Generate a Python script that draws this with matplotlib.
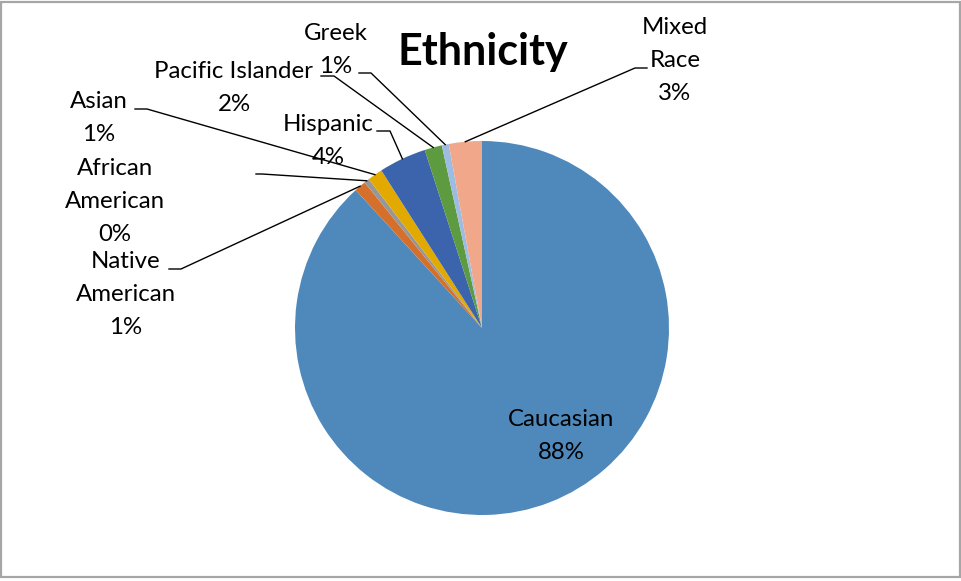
import math
import matplotlib
matplotlib.use("Agg")
import matplotlib.pyplot as plt
from matplotlib.patches import Rectangle

# ---- data ----
categories = ["Caucasian", "Native American", "African American", "Asian",
              "Hispanic", "Pacific Islander", "Greek", "Mixed Race"]
values = [88.2, 1.0, 0.45, 1.3, 4.1, 1.5, 0.6, 2.85]
colors = ["#4F89BC", "#D4702C", "#979797", "#E2AA00",
          "#3B64AC", "#5D9A40", "#9EBBE2", "#F1A88A"]
display_names = ["Caucasian", "Native\nAmerican", "African\nAmerican", "Asian",
                 "Hispanic", "Pacific Islander", "Greek", "Mixed\nRace"]
title = "Ethnicity"

W, H = 962, 581
fig = plt.figure(figsize=(W / 100, H / 100), dpi=100)
ax = fig.add_axes([0, 0, 1, 1])

def Y(y):
    return H - y

cx, cy, R = 482, Y(328), 187
wedges, _ = ax.pie(values, colors=colors, startangle=90, counterclock=False,
                   center=(cx, cy), radius=R,
                   wedgeprops=dict(linewidth=0))
ax.set_xlim(0, W)
ax.set_ylim(0, H)
ax.set_aspect("equal")
ax.set_axis_off()

# border
ax.add_patch(Rectangle((1.5, Y(577)), W - 3.5, 575, fill=False,
                       edgecolor="#A6A6A6", linewidth=1.6))

FONT = "Lato"
FS = 17.3
PITCH = 33.3

total = sum(values)
labels = [f"{n}\n{v / total * 100:.0f}%" for n, v in zip(display_names, values)]

# label layout: (text center x, first-line center y, leader knee points) in pixel coords
layout = {
    "Caucasian": (561, 418, None),
    "Native American": (126, 260, [(169, 269), (181, 269)]),
    "African American": (115, 167, [(256, 174), (262, 174)]),
    "Asian": (99, 100, [(135, 109), (147, 109)]),
    "Hispanic": (328, 123, [(377, 131), (390, 131)]),
    "Pacific Islander": (234, 70, [(321, 76), (334, 76)]),
    "Greek": (336, 32, [(359, 73), (371, 73)]),
    "Mixed Race": (675, 26, [(647, 68), (635, 68)]),
}

for cat, lab, w in zip(categories, labels, wedges):
    tx, ty, knee = layout[cat]
    for i, line in enumerate(lab.split("\n")):
        ax.text(tx, Y(ty + i * PITCH + 7.5), line, ha="center", va="baseline",
                fontsize=FS, family=FONT, color="black")
    if knee:
        th = math.radians((w.theta1 + w.theta2) / 2)
        ex, ey = cx + R * math.cos(th), cy + R * math.sin(th)
        xs = [p[0] for p in knee] + [ex]
        ys = [Y(p[1]) for p in knee] + [ey]
        ax.plot(xs, ys, color="black", linewidth=1.0)

ax.text(483, Y(52), title, ha="center", va="center", fontsize=31,
        fontweight="bold", family=FONT)

fig.savefig("out.png", dpi=100)
